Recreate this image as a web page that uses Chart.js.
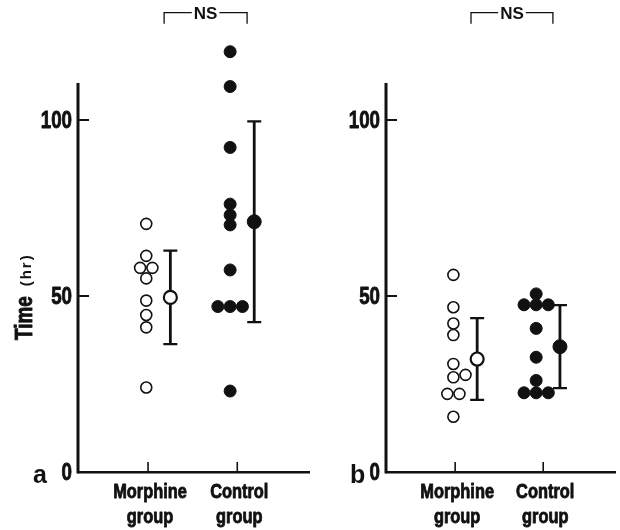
<!DOCTYPE html>
<html><head><meta charset="utf-8">
<script src="https://cdn.jsdelivr.net/npm/chart.js@4.4.1/dist/chart.umd.min.js"></script>
<style>
html,body{margin:0;padding:0;background:#fff;}
#wrap{position:relative;width:620px;height:530px;overflow:hidden;}
canvas{position:absolute;top:0;}
</style></head><body>
<div id="wrap">
<canvas id="ca" width="310" height="530" style="left:0"></canvas>
<canvas id="cb" width="310" height="530" style="left:310px"></canvas>
</div>
<script>
// ---------- data (hours) ----------
const categories = ['Morphine group', 'Control group'];
const yTickValues = [0, 50, 100];
const morphineA = [70.5, 61.4, 58, 58, 55, 48.7, 44.6, 41.1, 24];
const controlA  = [119.4, 109.5, 92.2, 76.1, 73, 70.2, 57.4, 47, 47, 47, 23];
const meanA     = [49.6, 71.1];
const sdA       = [13.3, 28.5];
const morphineB = [56, 46.8, 42.2, 38.9, 30.7, 27.6, 26.9, 22.2, 22.2, 15.7];
const controlB  = [50.6, 47.5, 47.5, 47.5, 40.8, 32.6, 26, 22.5, 22.5, 22.5];
const meanB     = [32.1, 35.6];
const sdB       = [11.6, 11.8];
const significance = ['NS', 'NS'];
const axisTop = 110.5;   // where the drawn y axis line ends
const yTitle = ['Time', '(hr)'];

// ---------- layout helpers ----------
const INK = '#111';
const SANS = '"Liberation Sans", Arial, sans-serif';
const catPos = [1, 2];
const indivShift = [-0.02, -0.08];
const meanShift = [0.25, 0.19];
const STEP = 0.138;
const SQUEEZE = 0.78;

function swarm(values, step, tol) {
  const order = values.map((v, i) => i).sort((a, b) => values[a] - values[b]);
  const placed = [];
  const offs = new Array(values.length).fill(0);
  let k = 0;
  while (k < order.length) {
    let j = k;
    while (j + 1 < order.length && values[order[j + 1]] === values[order[k]]) j++;
    const n = j - k + 1;
    const v = values[order[k]];
    if (n > 1) {
      for (let t = 0; t < n; t++) {
        const o = (t - (n - 1) / 2) * step;
        offs[order[k + t]] = o;
        placed.push({ v, o });
      }
    } else {
      let o = 0;
      while (placed.some(p => Math.abs(p.v - v) < tol && Math.abs(p.o - o) < step * 0.5)) o += step;
      offs[order[k]] = o;
      placed.push({ v, o });
    }
    k = j + 1;
  }
  return offs;
}

function pts(values, gi) {
  const offs = swarm(values, STEP, 2.5);
  return values.map((v, i) => ({ x: catPos[gi] + indivShift[gi] + offs[i], y: v }));
}

function narrowText(ctx, text, x, y, font, align, baseline) {
  ctx.save();
  ctx.translate(x, y);
  ctx.scale(SQUEEZE, 1);
  ctx.font = font;
  ctx.textAlign = align;
  ctx.textBaseline = baseline;
  ctx.lineWidth = 0.9;
  ctx.lineJoin = 'round';
  ctx.fillText(text, 0, 0);
  ctx.strokeText(text, 0, 0);
  ctx.restore();
}

const decor = {
  id: 'decor',
  beforeDatasetsDraw(chart, args, o) {
    const { ctx, chartArea } = chart;
    const xs = chart.scales.x, ys = chart.scales.y;
    ctx.save();
    ctx.strokeStyle = INK;
    // y axis line (stops at axisTop)
    ctx.lineWidth = 3;
    ctx.beginPath();
    ctx.moveTo(chartArea.left, ys.getPixelForValue(0) + 1.2);
    ctx.lineTo(chartArea.left, ys.getPixelForValue(axisTop));
    ctx.stroke();
    // error bars (mean ± SD)
    o.means.forEach((m, i) => {
      const x = xs.getPixelForValue(catPos[i] + meanShift[i]);
      const yt = ys.getPixelForValue(m + o.sds[i]);
      const yb = ys.getPixelForValue(m - o.sds[i]);
      ctx.lineWidth = 2.8;
      ctx.beginPath(); ctx.moveTo(x, yt); ctx.lineTo(x, yb); ctx.stroke();
      ctx.lineWidth = 2.2;
      ctx.beginPath();
      ctx.moveTo(x - 7, yt); ctx.lineTo(x + 7, yt);
      ctx.moveTo(x - 7, yb); ctx.lineTo(x + 7, yb);
      ctx.stroke();
    });
    ctx.restore();
  },
  afterDraw(chart, args, o) {
    const { ctx, chartArea } = chart;
    const xs = chart.scales.x, ys = chart.scales.y;
    ctx.save();
    ctx.strokeStyle = INK; ctx.fillStyle = INK;
    // inward y tick marks + labels
    yTickValues.forEach(v => {
      const y = ys.getPixelForValue(v);
      if (v > 0) {
        ctx.lineWidth = 2;
        ctx.beginPath(); ctx.moveTo(chartArea.left, y); ctx.lineTo(chartArea.left + 11, y); ctx.stroke();
      }
      narrowText(ctx, String(v), chartArea.left - 6, y + 1.5, 'bold 24px ' + SANS, 'right', 'middle');
    });
    // inward x tick marks + two-line labels
    catPos.forEach((c, i) => {
      const x = xs.getPixelForValue(c);
      ctx.lineWidth = 1.6;
      ctx.beginPath(); ctx.moveTo(x, chartArea.bottom); ctx.lineTo(x, chartArea.bottom - 10); ctx.stroke();
      categories[i].split(' ').forEach((line, li) => {
        narrowText(ctx, line, x + 2, chartArea.bottom + 26 + li * 25, 'bold 21px ' + SANS, 'center', 'alphabetic');
      });
    });
    // significance bracket
    const bx1 = xs.getPixelForValue(1.18), bx2 = xs.getPixelForValue(2.11);
    const by = ys.getPixelForValue(130.5);
    ctx.font = 'bold 17px ' + SANS;
    ctx.textAlign = 'center'; ctx.textBaseline = 'middle';
    const label = o.sig;
    const tw = ctx.measureText(label).width;
    const cx = (bx1 + bx2) / 2;
    ctx.lineWidth = 1.3;
    ctx.beginPath();
    ctx.moveTo(bx1, by + 11); ctx.lineTo(bx1, by); ctx.lineTo(cx - tw / 2 - 2, by);
    ctx.moveTo(cx + tw / 2 + 2, by); ctx.lineTo(bx2, by); ctx.lineTo(bx2, by + 11);
    ctx.stroke();
    ctx.fillText(label, cx, by + 1.5);
    // panel letter
    ctx.font = 'bold 25px ' + SANS;
    ctx.textAlign = 'left'; ctx.textBaseline = 'alphabetic';
    ctx.fillText(o.letter, o.letterX, chartArea.bottom + 11);
    // axis title
    if (o.title) {
      ctx.translate(32, chartArea.bottom - 132);
      ctx.rotate(-Math.PI / 2);
      ctx.save();
      ctx.scale(0.82, 1);
      ctx.font = 'bold 23px ' + SANS;
      ctx.textAlign = 'left';
      ctx.lineWidth = 0.9;
      ctx.fillText(yTitle[0], 0, 0);
      ctx.strokeText(yTitle[0], 0, 0);
      const w = ctx.measureText(yTitle[0]).width * 0.82;
      ctx.restore();
      ctx.font = 'bold 15px ' + SANS;
      try { ctx.letterSpacing = '2px'; } catch (e) {}
      ctx.textAlign = 'left';
      ctx.fillText(yTitle[1], w + 10, -1);
    }
    ctx.restore();
  }
};

function makeChart(id, morph, ctrl, means, sds, letter, letterX, title, yWidth, rightPad, sig) {
  return new Chart(document.getElementById(id), {
    type: 'scatter',
    data: {
      datasets: [
        { data: pts(morph, 0), pointRadius: 5.5, backgroundColor: '#fff', borderColor: INK, borderWidth: 1.6, clip: false, order: 2 },
        { data: pts(ctrl, 1), pointRadius: 6, backgroundColor: INK, borderColor: INK, borderWidth: 1, clip: false, order: 2 },
        { data: [{ x: catPos[0] + meanShift[0], y: means[0] }], pointRadius: 6.5, backgroundColor: '#fff', borderColor: INK, borderWidth: 2.2, clip: false, order: 1 },
        { data: [{ x: catPos[1] + meanShift[1], y: means[1] }], pointRadius: 7, backgroundColor: INK, borderColor: INK, borderWidth: 1, clip: false, order: 1 }
      ]
    },
    options: {
      responsive: false,
      animation: false,
      events: [],
      layout: { autoPadding: false, padding: { top: 32, right: rightPad, left: 0, bottom: 0 } },
      plugins: {
        legend: { display: false },
        tooltip: { enabled: false },
        decor: { means, sds, letter, letterX, title, sig }
      },
      elements: { point: { hoverRadius: 0 } },
      scales: {
        x: {
          type: 'linear', min: 0.215, max: 2.815,
          afterBuildTicks: s => { s.ticks = catPos.map(v => ({ value: v })); },
          afterFit: s => { s.height = 58; },
          grid: { display: true, drawOnChartArea: false, drawTicks: false },
          border: { display: true, color: INK, width: 2.5 },
          ticks: { display: false }
        },
        y: {
          type: 'linear', min: 0, max: 125,
          afterBuildTicks: s => { s.ticks = yTickValues.map(v => ({ value: v })); },
          afterFit: s => { s.width = yWidth; },
          grid: { display: false },
          border: { display: false },
          ticks: { display: false }
        }
      }
    },
    plugins: [decor]
  });
}

makeChart('ca', morphineA, controlA, meanA, sdA, 'a', 33, true, 78, 0, significance[0]);
makeChart('cb', morphineB, controlB, meanB, sdB, 'b', 40, false, 76, 5, significance[1]);
</script>
</body></html>
